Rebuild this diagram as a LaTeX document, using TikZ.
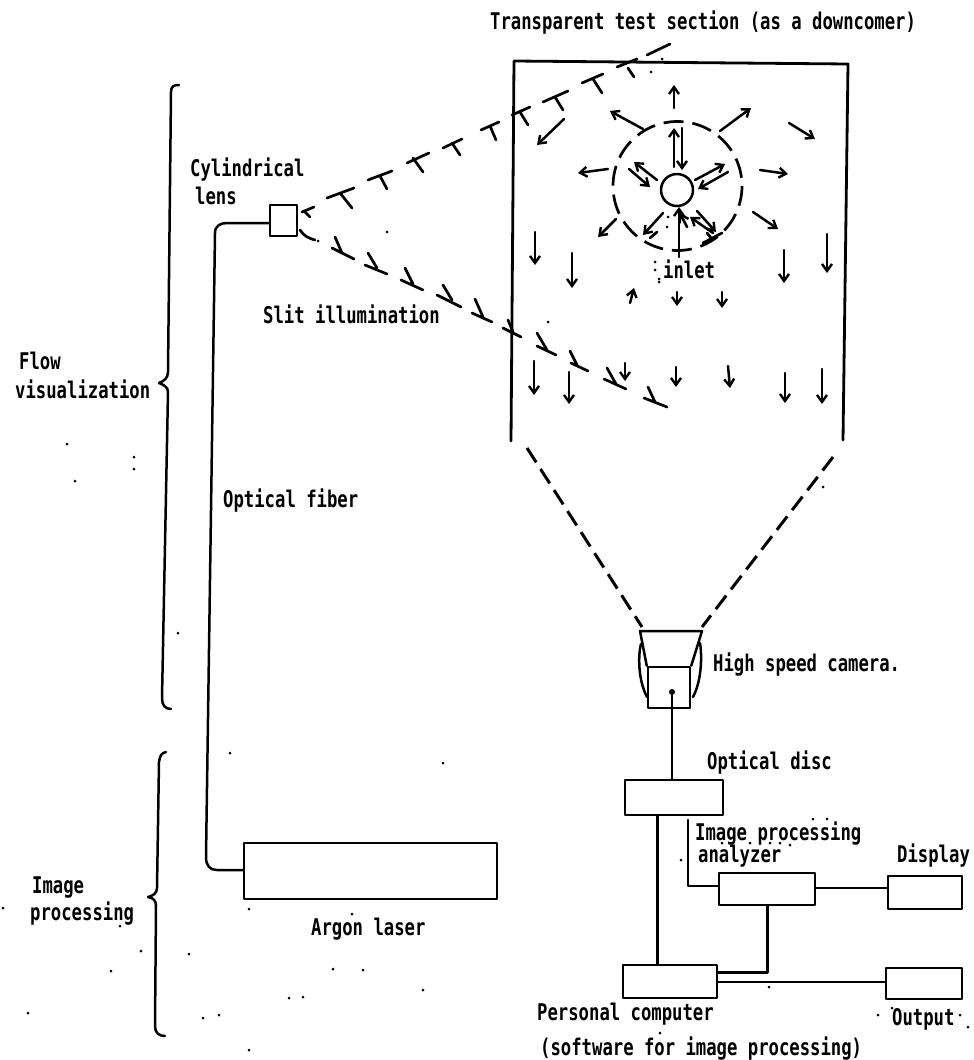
\documentclass[tikz,border=0pt]{standalone}
\usepackage{fontspec}
\usetikzlibrary{arrows.meta}
\newfontfamily\lblfont[FakeStretch=0.75]{DejaVu Sans Mono Bold}
\tikzset{
  ink/.style={line width=2.5pt,line cap=round,line join=round,black},
  flowarrow/.style={ink,-{Straight Barb[length=7pt,width=10pt,line width=2.4pt]}},
  beamtick/.style={ink,line width=2.7pt},
  dashwall/.style={ink,line width=3pt,dash pattern=on 17pt off 8pt,line cap=butt},
  ringdash/.style={ink,line width=2.7pt,dash pattern=on 20pt off 9pt,line cap=butt},
  boxnode/.style={draw,ink,rectangle,inner sep=0pt,fill=none},
  lbl/.style={anchor=base west,inner sep=0pt,font=\lblfont\fontsize{23}{23}\selectfont},
  speck/.style={fill=black,draw=none}
}
\begin{document}
\begin{tikzpicture}[x=1pt,y=-1pt]
\useasboundingbox (0,0) rectangle (974,1060);
% Test section and funnel
\draw[ink,line width=2.8pt] (511,441) -- (514,61) -- (848,64) -- (843,440);
\draw[dashwall] (527,448) -- (642,627);
\draw[dashwall] (833,457) -- (702,627);
% Inlet ring
\node[circle,draw,ink,minimum size=32pt,inner sep=0pt] (inletpipe) at (677,190) {};
\draw[ringdash] (677.5,186) circle (64.5);
% Light sheet, upper edge
\draw[beamtick] (302,212)--(314,207) (305,212)--(310,217);
\draw[beamtick] (327,198)--(354,188) (340,193)--(352,208);
\draw[beamtick] (368,180)--(392,171) (380,176)--(387,189);
\draw[beamtick] (407,163)--(429,153) (413,158)--(423,172);
\draw[beamtick] (443,148)--(462,139) (452,143)--(460,155);
\draw[beamtick] (481,130)--(499,122) (490,126)--(496,140);
\draw[beamtick] (512,115)--(530,107) (520,112)--(528,125);
\draw[beamtick] (543,102)--(568,91) (555,97)--(563,110);
\draw[beamtick] (582,83)--(603,74) (593,79)--(602,93);
\draw[beamtick] (617,67)--(637,59) (628,68)--(634,77);
\draw[beamtick] (647,55)--(670,44);
% Light sheet, lower edge
\draw[beamtick] (300,230) .. controls (304,236) and (308,238) .. (315,240);
\draw[beamtick] (332,248)--(354,259) (335,237)--(342,253);
\draw[beamtick] (365,265)--(387,274) (368,253)--(377,268);
\draw[beamtick] (401,280)--(423,290) (405,268)--(413,284);
\draw[beamtick] (437,295)--(461,307) (443,285)--(452,300);
\draw[beamtick] (472,313)--(492,322) (475,299)--(483,317);
\draw[beamtick] (503,328)--(521,337) (508,320)--(513,332);
\draw[beamtick] (537,346)--(556,355) (537,333)--(547,350);
\draw[beamtick] (571,363)--(588,371) (570,351)--(577,365);
\draw[beamtick] (604,379)--(626,389) (607,368)--(616,384);
\draw[beamtick] (644,398)--(667,407) (648,387)--(655,402);
% Flow arrows
\foreach \ax/\ay/\bx/\by in {
 674/108/674/85, 643/129/610/111, 720/131/751/108, 789/123/815/139,
 564/119/537/145, 608/169/578/173, 760/170/788/174, 616/219/598/237,
 753/212/778/229, 674/167/674/128, 682/128/682/170, 657/180/634/162,
 629/169/650/187, 695/180/725/164, 728/172/698/189, 663/213/643/235,
 679/257/679/207, 713/233/690/217, 697/211/716/232, 687/227/680/213,
 535/232/535/265, 572/253/572/288, 784/250/784/283, 827/234/827/273,
 630/303/634/288, 677/292/677/306, 722/292/722/308,
 534/361/534/395, 569/372/569/404, 625/363/625/381, 676/367/676/387,
 728/366/730/388, 785/373/785/403, 822/369/822/404}
 {\draw[flowarrow] (\ax,\ay) -- (\bx,\by);}
\draw[beamtick] (650,238)--(657,232);
\draw[beamtick] (703,243)--(722,233) (707,233)--(712,239);
% Lens, laser, fibre
\node[boxnode,minimum width=27pt,minimum height=31pt] (lens) at (283.5,220.5) {};
\node[boxnode,minimum width=253pt,minimum height=56pt] (laser) at (370.5,871) {};
\coordinate (fibreTop) at (215,233);
\coordinate (fibreLow) at (206,857);
\draw[ink] (lens.west |- 0,223) -- (227,223) .. controls (220,223) and (215,226) .. (fibreTop)
  -- (fibreLow) .. controls (206,866) and (210,870) .. (217,870) -- (laser.west |- 0,870);
% Camera
\node[boxnode,minimum width=42pt,minimum height=41pt] (cambody) at (669,687.5) {};
\coordinate (camdot) at (672,692);
\draw[ink] (cambody.north west) -- (640,631) -- (702,631) -- (cambody.north east);
\draw[ink] (641,644) .. controls (638,655) and (638,680) .. (647,697);
\draw[ink] (700,643) .. controls (702,655) and (702,680) .. (693,697);
% Processing chain
\node[boxnode,minimum width=98pt,minimum height=35pt] (disc) at (674,797.5) {};
\node[boxnode,minimum width=96pt,minimum height=32pt] (analyzer) at (767,889) {};
\node[boxnode,minimum width=74pt,minimum height=33pt] (display) at (925,892.5) {};
\node[boxnode,minimum width=94pt,minimum height=33pt] (pc) at (670,981.5) {};
\node[boxnode,minimum width=76pt,minimum height=31pt] (outputbox) at (924,983.5) {};
\fill (camdot) circle (3pt);
\draw[ink] (camdot) -- (disc.north -| camdot);
\coordinate (discpc) at (657,800);
\draw[ink,line width=3pt] (disc.south -| discpc) -- (pc.north -| discpc);
\coordinate (anlead) at (688,820);
\draw[ink] (anlead) -- (688,886) -- (analyzer.west |- 0,886);
\draw[ink] (analyzer.east |- 0,888) -- (display.west |- 0,888);
\draw[ink,line width=3pt] (analyzer.south) -- (767,972) -- (pc.east |- 0,972);
\draw[ink] (pc.east |- 0,982) -- (outputbox.west |- 0,982);
% Braces
\draw[ink] (179,85) .. controls (174,85) and (171,86) .. (171,92) -- (168,372)
  .. controls (168,378) and (164,381) .. (159,383) .. controls (164,385) and (168,387) .. (168,392)
  -- (162,698) .. controls (162,705) and (165,709) .. (171,709);
\draw[ink] (166,752) .. controls (161,753) and (160,756) .. (159,762) -- (157,888)
  .. controls (157,893) and (153,896) .. (148,897) .. controls (153,898) and (156,900) .. (156,906)
  -- (155,1026) .. controls (155,1033) and (159,1036) .. (165,1036);
% Labels
\node[lbl] (t1) at (490,29) {Transparent test section (as a downcomer)};
\node[lbl] (t2) at (190,176) {Cylindrical};
\node[lbl] (t3) at (195,204) {lens};
\node[lbl] (t4) at (19,369) {Flow};
\node[lbl] (t5) at (15,398) {visualization};
\node[lbl] (t6) at (263,323) {Slit illumination};
\node[lbl] (t7) at (223,507) {Optical fiber};
\node[lbl] (t8) at (713,671) {High speed camera.};
\node[lbl] (t9) at (707,769) {Optical disc};
\node[lbl] (t10) at (695,840) {Image processing};
\node[lbl] (t11) at (698,862) {analyzer};
\node[lbl] (t12) at (897,862) {Display};
\node[lbl] (t13) at (311,935) {Argon laser};
\node[lbl] (t14) at (32,893) {Image};
\node[lbl] (t15) at (30,920) {processing};
\node[lbl] (t16) at (537,1020) {Personal computer};
\node[lbl] (t17) at (540,1055) {(software for image processing)};
\node[lbl] (t18) at (892,1025) {Output};
\node[lbl] (t19) at (663,278) {inlet};
% Specks
\foreach \sx/\sy in {67/444,134/457,134/469,75/481,178/633,230/753,443/763,249/909,352/914,3/908,
 120/926,141/951,189/954,111/971,333/969,363/970,423/990,289/998,303/997,28/1013,203/1018,219/1015,
 249/1050,651/72,662/59,655/262,655/270,659/279,668/217,667/227,548/322,659/282,387/232,318/241,
 823/487,681/860,813/819,827/819,769/987,878/1015,968/1027,960/1015,892/1008,660/1033,
 722/843,750/843,770/843,780/843,790/845}
 {\fill[speck] (\sx,\sy) circle (1.5pt);}
\end{tikzpicture}
\end{document}
